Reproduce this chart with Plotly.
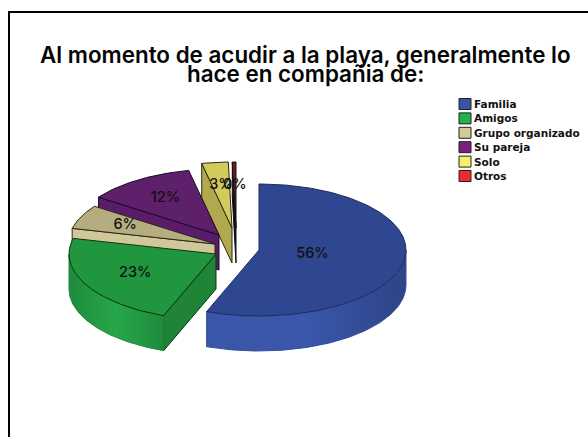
import math
import numpy as np
import plotly.graph_objects as go

categories = ["Familia", "Amigos", "Grupo organizado", "Su pareja", "Solo", "Otros"]
shares = [55.8, 23.0, 5.9, 12.0, 2.9, 0.4]

title_lines = ["Al momento de acudir a la playa, generalmente lo", "hace en compañia de:"]

# Styles and geometry of the tilted, exploded pie
legend_colors = ["#3a55a6", "#22b14c", "#d2ca96", "#7a1f7e", "#f5ef6a", "#ed2a2e"]
top_colors = ["#2f4690", "#20963f", "#b5ad80", "#5e1f6b", "#d3ca5e", "#7a1a20"]
wall_colors = ["#2d4285", "#1f8436", "#d0c89a", "#5a1c68", "#b0a94e", "#101010"]
edge_colors = ["#1d2c60", "#0d3315", "#2a2a1a", "#1c0a22", "#2a2810", "#101010"]
outer_edges = ["#34509c", "#1c8a3a", "#2a2a1a", "#1c0a22", "#2a2810", "#101010"]
outer_scales = [
    ["#3a56a8", "#3a57aa", "#2e4488"],
    ["#1f8a3c", "#27a749", "#1e8a3b"],
    ["#d0c89a"] * 3, ["#5a1c68"] * 3, ["#b0a94e"] * 3, ["#101010"] * 3,
]
apex_x = [259, 216, 215, 219, 232, 236]
apex_y = [250, 254, 244, 235, 228, 228]
label_radius = [0.37, 0.62, 0.67, 0.66, 0.65, 0.65]
RX, RY, DEPTH = 147, 66, 35

total = sum(shares)
ends = np.cumsum(shares) / total * 360
starts = np.concatenate([[0], ends[:-1]])


def arc(cx, cy, a0, a1, dy=0):
    t = np.radians(np.linspace(a0, a1, max(int(abs(a1 - a0)) + 2, 2)))
    return cx + RX * np.sin(t), cy - RY * np.cos(t) + dy


def poly(xs, ys, fill, edge, gradient=None):
    kw = dict(fillgradient=dict(type="horizontal", colorscale=gradient)) if gradient else dict(fillcolor=fill)
    return go.Scatter(x=list(xs) + [xs[0]], y=list(ys) + [ys[0]], mode="lines", fill="toself",
                      line=dict(color=edge, width=1), hoverinfo="skip", showlegend=False, **kw)


fig = go.Figure()
for i in reversed(range(len(categories))):
    a0, a1 = starts[i], ends[i]
    cx, cy = apex_x[i], apex_y[i]
    e = edge_colors[i]
    for ang, vis in ((a0, math.sin(math.radians(a0)) < -1e-6), (a1, math.sin(math.radians(a1)) > 1e-6)):
        if vis:
            px = cx + RX * math.sin(math.radians(ang))
            py = cy - RY * math.cos(math.radians(ang))
            fig.add_trace(poly([cx, px, px, cx], [cy, py, py + DEPTH, cy + DEPTH], wall_colors[i], e))
    f0, f1 = max(a0, 90), min(a1, 270)
    if f1 > f0:
        xt, yt = arc(cx, cy, f0, f1)
        xb, yb = arc(cx, cy, f0, f1, DEPTH)
        scale = outer_scales[i]
        fig.add_trace(poly(list(xt) + list(xb[::-1]), list(yt) + list(yb[::-1]), wall_colors[i], outer_edges[i],
                           gradient=[[0, scale[0]], [0.5, scale[1]], [1, scale[2]]]))
    xt, yt = arc(cx, cy, a0, a1)
    fig.add_trace(poly([cx] + list(xt), [cy] + list(yt), top_colors[i], e))

mids = np.radians((starts + ends) / 2)
fig.add_trace(go.Scatter(
    x=[apex_x[i] + RX * label_radius[i] * math.sin(mids[i]) for i in range(6)],
    y=[apex_y[i] - RY * label_radius[i] * math.cos(mids[i]) for i in range(6)],
    text=[f"{round(s / total * 100)}%" for s in shares],
    mode="text", textposition="middle center",
    textfont=dict(family="Inter", size=14.5, weight=500, color="#111111"),
    hoverinfo="skip", showlegend=False))

annotations = [
    dict(x=305, y=54, text=title_lines[0], xref="x", yref="y", showarrow=False,
         xanchor="center", yanchor="middle",
         font=dict(family="Inter", size=22.4, weight=600, color="#050505")),
    dict(x=305, y=73, text=title_lines[1], xref="x", yref="y", showarrow=False,
         xanchor="center", yanchor="middle",
         font=dict(family="Inter", size=22.4, weight=600, color="#050505")),
]
shapes = [dict(type="rect", xref="x", yref="y", x0=9, y0=12, x1=600, y1=450,
               line=dict(color="#000000", width=2), layer="below")]
for i, (name, col) in enumerate(zip(categories, legend_colors)):
    yc = 104 + i * 14.4
    shapes.append(dict(type="rect", xref="x", yref="y", x0=459, x1=471, y0=yc - 5.5, y1=yc + 5.5,
                       fillcolor=col, line=dict(color="#222222", width=1)))
    annotations.append(dict(x=472, y=yc, text=f"<b>{name}</b>", xref="x", yref="y", showarrow=False,
                            xanchor="left", yanchor="middle",
                            font=dict(family="DejaVu Sans", size=10.5, color="#111111")))

fig.update_layout(
    width=588, height=437, margin=dict(l=0, r=0, t=0, b=0),
    paper_bgcolor="white", plot_bgcolor="white", showlegend=False,
    xaxis=dict(range=[0, 588], visible=False, fixedrange=True),
    yaxis=dict(range=[437, 0], visible=False, fixedrange=True),
    annotations=annotations, shapes=shapes,
)
fig.write_html("out.html", config={"displayModeBar": False},
               post_script="document.body.style.margin='0';document.body.style.overflow='hidden';")
